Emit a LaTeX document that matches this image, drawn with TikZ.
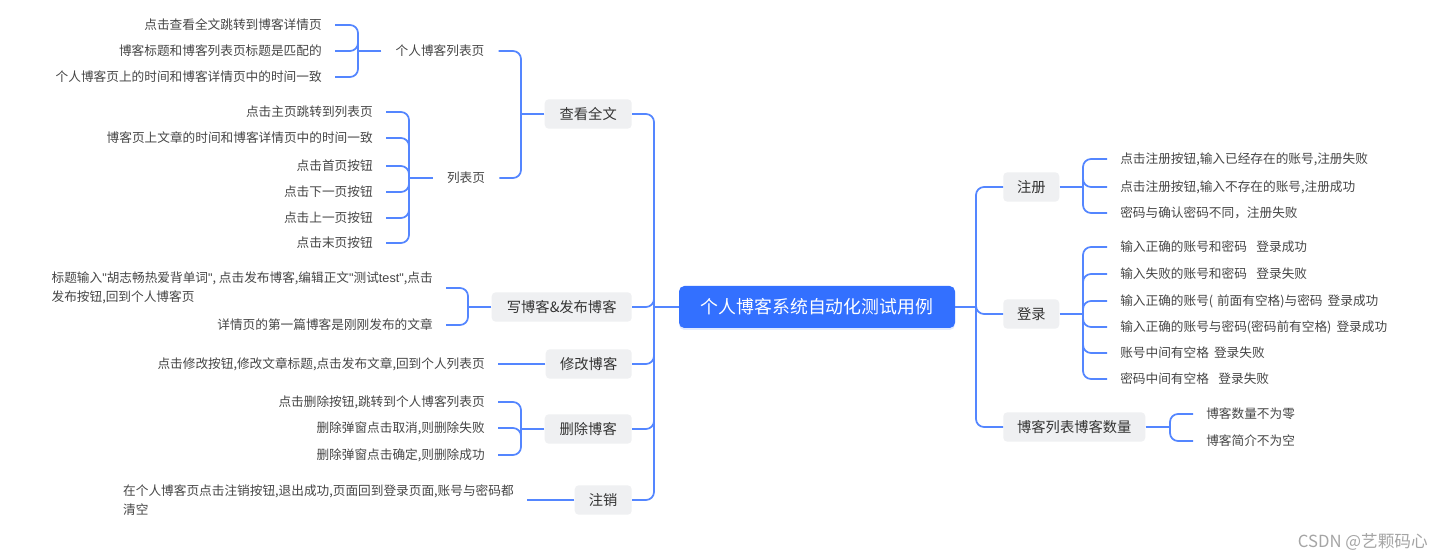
\documentclass[tikz,border=0pt]{standalone}
\usepackage{fontspec}
\setmainfont{Noto Sans CJK SC}
\newfontfamily\latinq{Liberation Sans}
\usetikzlibrary{shadows}
\definecolor{lineblue}{RGB}{84,134,255}
\definecolor{rootblue}{RGB}{51,112,255}
\definecolor{boxgray}{RGB}{239,240,242}
\definecolor{txtdark}{RGB}{51,51,51}
\definecolor{txtleaf}{RGB}{70,70,70}
\definecolor{wmgray}{RGB}{165,165,165}
\newcommand\dq{{\latinq\symbol{"22}}}
\tikzset{
  conn/.style={draw=lineblue, line width=1.3pt},
  rconn/.style={conn, rounded corners=6pt},
  topic/.style={fill=boxgray, rounded corners=3pt, minimum height=22pt, inner xsep=0pt, inner ysep=0pt, text=txtdark, font=\fontsize{10.7}{13}\selectfont},
  topicL/.style={topic, anchor=east},
  topicR/.style={topic, anchor=west},
  leaf/.style={inner xsep=9.75pt, inner ysep=1pt, text=txtleaf, font=\fontsize{9.5}{14.25}\selectfont, align=left},
  leafL/.style={leaf, anchor=east},
  leafR/.style={leaf, anchor=west},
  subtopic/.style={inner xsep=10.5pt, inner ysep=1pt, text=txtleaf, font=\fontsize{9.5}{14.25}\selectfont},
  rootbox/.style={fill=rootblue, text=white, rounded corners=4pt, minimum width=207pt, minimum height=31.5pt, inner sep=0pt, font=\fontsize{13.4}{16}\selectfont, drop shadow={opacity=0.15, shadow xshift=0pt, shadow yshift=-1.5pt, fill=rootblue}}
}
\begin{document}
\begin{tikzpicture}[x=0.75pt,y=-0.75pt]
\fill[white] (0,0) rectangle (1445,559);
\useasboundingbox (0,0) rectangle (1445,559);

% root
\node[rootbox] (root) at (817,307) {个人博客系统自动化测试用例};
\coordinate (jL) at (654,307);
\coordinate (jR) at (976,307);

% left topics
\node[topicL, minimum width=65.25pt] (t1) at (632,114) {查看全文};
\node[topicL, minimum width=105pt] (t2) at (632,307) {写博客\&发布博客};
\node[topicL, minimum width=64.5pt] (t3) at (632,364) {修改博客};
\node[topicL, minimum width=65.25pt] (t4) at (632,429) {删除博客};
\node[topicL, minimum width=42.75pt] (t5) at (632,500) {注销};

% right topics
\node[topicR, minimum width=42pt] (r1) at (1003,187) {注册};
\node[topicR, minimum width=42pt] (r2) at (1003,314) {登录};
\node[topicR, minimum width=106.5pt] (r3) at (1003,427) {博客列表博客数量};

\draw[conn] (root.west) -- (jL);
\foreach \n in {t1,t2,t3,t4,t5} \draw[rconn] (jL) |- (\n.east);
\draw[conn] (root.east) -- (jR);
\foreach \n in {r1,r2,r3} \draw[rconn] (jR) |- (\n.west);

% 查看全文 subtree
\node[subtopic] (p1) at (440,51) {个人博客列表页};
\node[subtopic] (p2) at (466,178) {列表页};
\coordinate (jT1) at (521,114);
\draw[conn] (t1.west) -- (jT1);
\foreach \n in {p1,p2} \draw[rconn] (jT1) |- (\n.east);

\node[leafL] (a1) at (335,25) {点击查看全文跳转到博客详情页};
\node[leafL] (a2) at (335,51) {博客标题和博客列表页标题是匹配的};
\node[leafL] (a3) at (335,77) {个人博客页上的时间和博客详情页中的时间一致};
\coordinate (jA) at (358,51);
\draw[conn] (p1.west) -- (jA);
\foreach \n in {a1,a2,a3} \draw[rconn] (jA) |- (\n.east);

\node[leafL] (b1) at (386,112) {点击主页跳转到列表页};
\node[leafL] (b2) at (386,138) {博客页上文章的时间和博客详情页中的时间一致};
\node[leafL] (b3) at (386,166) {点击首页按钮};
\node[leafL] (b4) at (386,192) {点击下一页按钮};
\node[leafL] (b5) at (386,218) {点击上一页按钮};
\node[leafL] (b6) at (386,243) {点击末页按钮};
\coordinate (jB) at (409,178);
\draw[conn] (p2.west) -- (jB);
\foreach \n in {b1,b2,b3,b4,b5,b6} \draw[rconn] (jB) |- (\n.east);

% 写博客&发布博客
\node[leafL] (c1) at (446,288) {标题输入\dq 胡志畅热爱背单词\dq, 点击发布博客,编辑正文\dq 测试{\latinq test}\dq,点击\\发布按钮,回到个人博客页};
\node[leafL] (c2) at (446,325) {详情页的第一篇博客是刚刚发布的文章};
\coordinate (jT2) at (468,307);
\draw[conn] (t2.west) -- (jT2);
\foreach \n in {c1,c2} \draw[rconn] (jT2) |- (\n.east);

% 修改博客
\node[leafL] (d1) at (498,364) {点击修改按钮,修改文章标题,点击发布文章,回到个人列表页};
\draw[conn] (t3.west) -- (d1.east);

% 删除博客
\node[leafL] (e1) at (498,402) {点击删除按钮,跳转到个人博客列表页};
\node[leafL] (e2) at (498,428) {删除弹窗点击取消,则删除失败};
\node[leafL] (e3) at (498,455) {删除弹窗点击确定,则删除成功};
\coordinate (jT4) at (521,429);
\draw[conn] (t4.west) -- (jT4);
\foreach \n in {e1,e2,e3} \draw[rconn] (jT4) |- (\n.east);

% 注销
\node[leafL] (f1) at (527,500) {在个人博客页点击注销按钮,退出成功,页面回到登录页面,账号与密码都\\清空};
\draw[conn] (t5.west) -- (f1.east);

% 注册
\node[leafR] (g1) at (1107,159) {点击注册按钮,输入已经存在的账号,注册失败};
\node[leafR] (g2) at (1107,187) {点击注册按钮,输入不存在的账号,注册成功};
\node[leafR] (g3) at (1107,213) {密码与确认密码不同，注册失败};
\coordinate (jR1) at (1083,187);
\draw[conn] (r1.east) -- (jR1);
\foreach \n in {g1,g2,g3} \draw[rconn] (jR1) |- (\n.west);

% 登录
\node[leafR] (h1) at (1107,247) {输入正确的账号和密码\hspace{0.75em}登录成功};
\node[leafR] (h2) at (1107,274) {输入失败的账号和密码\hspace{0.75em}登录失败};
\node[leafR] (h3) at (1107,301) {输入正确的账号(\hspace{0.3em}前面有空格)与密码\hspace{0.4em}登录成功};
\node[leafR] (h4) at (1107,327) {输入正确的账号与密码(密码前有空格)\hspace{0.4em}登录成功};
\node[leafR] (h5) at (1107,353) {账号中间有空格\hspace{0.4em}登录失败};
\node[leafR] (h6) at (1107,379) {密码中间有空格\hspace{0.75em}登录失败};
\coordinate (jR2) at (1083,314);
\draw[conn] (r2.east) -- (jR2);
\foreach \n in {h1,h2,h3,h4,h5,h6} \draw[rconn] (jR2) |- (\n.west);

% 博客列表博客数量
\node[leafR] (k1) at (1193,414) {博客数量不为零};
\node[leafR] (k2) at (1193,441) {博客简介不为空};
\coordinate (jR3) at (1170,427);
\draw[conn] (r3.east) -- (jR3);
\foreach \n in {k1,k2} \draw[rconn] (jR3) |- (\n.west);

% watermark
\node[anchor=east, inner sep=0pt, text=wmgray, font=\fontsize{12.5}{14}\selectfont] (wm) at (1428,542) {CSDN @艺颗码心};
\end{tikzpicture}
\end{document}
